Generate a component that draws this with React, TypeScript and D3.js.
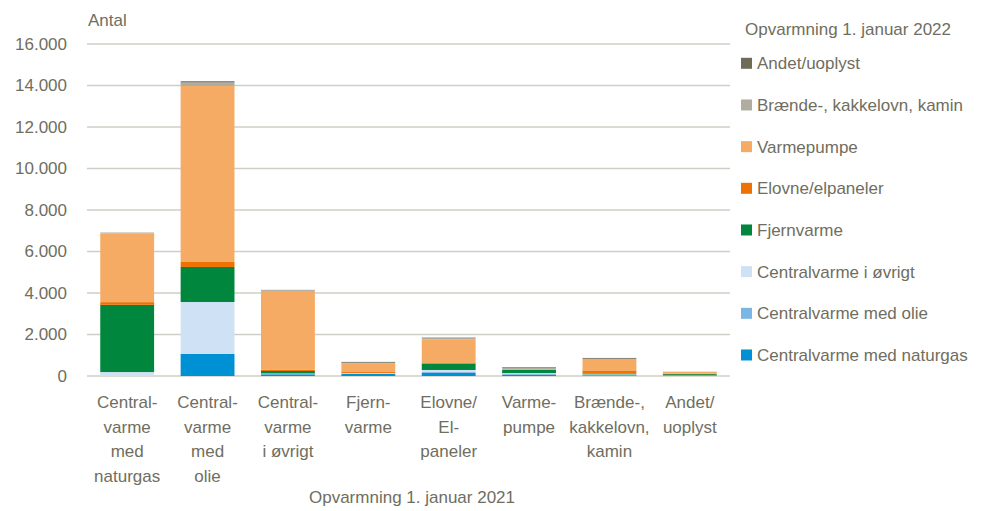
import React, { useEffect, useRef } from 'react';
import * as d3 from 'd3';

const categories = ['naturgas', 'olie', 'ovrigt', 'fjernvarme', 'elovne', 'varmepumpe', 'braende', 'andet'];
const categoryLabels = [
  ['Central-', 'varme', 'med', 'naturgas'],
  ['Central-', 'varme', 'med', 'olie'],
  ['Central-', 'varme', 'i øvrigt'],
  ['Fjern-', 'varme'],
  ['Elovne/', 'El-', 'paneler'],
  ['Varme-', 'pumpe'],
  ['Brænde-,', 'kakkelovn,', 'kamin'],
  ['Andet/', 'uoplyst'],
];

// series, bottom to top
const seriesNames = [
  'Centralvarme med naturgas',
  'Centralvarme med olie',
  'Centralvarme i øvrigt',
  'Fjernvarme',
  'Elovne/elpaneler',
  'Varmepumpe',
  'Brænde-, kakkelovn, kamin',
  'Andet/uoplyst',
];
const naturgas = [0, 1060, 80, 110, 150, 60, 30, 10];
const olie = [0, 0, 50, 0, 40, 50, 30, 10];
const ovrigt = [190, 2505, 0, 30, 100, 30, 20, 10];
const fjernvarme = [3240, 1690, 110, 0, 320, 150, 40, 60];
const elovne = [130, 240, 60, 50, 0, 20, 150, 20];
const varmepumpe = [3310, 8480, 3800, 430, 1160, 0, 560, 90];
const braende = [30, 170, 40, 20, 60, 90, 0, 10];
const andet = [10, 60, 10, 40, 20, 30, 40, 0];
const seriesValues = [naturgas, olie, ovrigt, fjernvarme, elovne, varmepumpe, braende, andet];
const colors = ['#0090d4', '#7ab5e3', '#cfe2f5', '#00873d', '#ee7203', '#f6ab64', '#b0ada0', '#6e6b5b'];

const yTicks = [0, 2000, 4000, 6000, 8000, 10000, 12000, 14000, 16000];

const textColor = '#6f6e60';
const font = '"Liberation Sans", Arial, sans-serif';

const App = () => {
  const svgRef = useRef<SVGSVGElement>(null);

  useEffect(() => {
    const w = 987;
    const h = 511;
    const left = 87;
    const right = 730;
    const top = 44;
    const bottom = 376;

    const svg = d3.select(svgRef.current).attr('width', w).attr('height', h);
    svg.selectAll('*').remove();

    const x = d3.scaleBand<string>().domain(categories).range([left, right]).paddingInner(0.33).paddingOuter(0.165);
    const y = d3.scaleLinear().domain([0, 16000]).range([bottom, top]);

    const locale = d3.formatLocale({ decimal: ',', thousands: '.', grouping: [3], currency: ['', ''] });
    const fmt = locale.format(',');

    // gridlines
    svg.append('g')
      .selectAll('line')
      .data(yTicks)
      .enter()
      .append('line')
      .attr('x1', left)
      .attr('x2', right)
      .attr('y1', (d) => y(d))
      .attr('y2', (d) => y(d))
      .attr('stroke', '#cfcec5')
      .attr('stroke-width', 1.3);

    const yAxis = d3.axisLeft(y).tickValues(yTicks).tickFormat((d) => fmt(d as number)).tickSize(0).tickPadding(20);
    const gy = svg.append('g').attr('transform', `translate(${left},0)`).call(yAxis);
    gy.select('.domain').remove();
    gy.selectAll('text').attr('fill', textColor).attr('font-size', 17).attr('font-family', font);

    // stacked bars
    const rows = categories.map((c, i) => {
      const r: any = { cat: c };
      seriesNames.forEach((s, j) => { r[s] = seriesValues[j][i]; });
      return r;
    });
    const stacked = d3.stack().keys(seriesNames)(rows);

    svg.append('g')
      .selectAll('g')
      .data(stacked)
      .enter()
      .append('g')
      .attr('fill', (d, i) => colors[i])
      .selectAll('rect')
      .data((d) => d)
      .enter()
      .append('rect')
      .attr('x', (d: any) => x(d.data.cat) as number)
      .attr('width', x.bandwidth())
      .attr('y', (d) => y(d[1]))
      .attr('height', (d) => Math.max(0, y(d[0]) - y(d[1])));

    // category labels
    const gl = svg.append('g');
    categories.forEach((c, i) => {
      const t = gl.append('text')
        .attr('x', (x(c) as number) + x.bandwidth() / 2)
        .attr('y', 408)
        .attr('text-anchor', 'middle')
        .attr('fill', textColor)
        .attr('font-size', 17)
        .attr('font-family', font);
      categoryLabels[i].forEach((line, k) => {
        t.append('tspan').attr('x', (x(c) as number) + x.bandwidth() / 2).attr('dy', k === 0 ? 0 : 24.5).text(line);
      });
    });

    svg.append('text')
      .attr('x', 412)
      .attr('y', 503)
      .attr('text-anchor', 'middle')
      .attr('fill', textColor)
      .attr('font-size', 17)
      .attr('font-family', font)
      .text('Opvarmning 1. januar 2021');

    svg.append('text')
      .attr('x', 88)
      .attr('y', 26)
      .attr('fill', textColor)
      .attr('font-size', 17)
      .attr('font-family', font)
      .text('Antal');

    // legend
    svg.append('text')
      .attr('x', 745)
      .attr('y', 35)
      .attr('fill', textColor)
      .attr('font-size', 17)
      .attr('font-family', font)
      .text('Opvarmning 1. januar 2022');

    const legend = svg.append('g')
      .selectAll('g')
      .data(seriesNames.map((s, i) => ({ s, c: colors[i] })).reverse())
      .enter()
      .append('g')
      .attr('transform', (d, i) => `translate(741,${63.3 + i * 41.67})`);
    legend.append('rect').attr('x', 0).attr('y', -5.5).attr('width', 11).attr('height', 11).attr('fill', (d) => d.c);
    legend.append('text')
      .attr('x', 16)
      .attr('y', 6)
      .attr('fill', textColor)
      .attr('font-size', 17)
      .attr('font-family', font)
      .text((d) => d.s);
  }, []);

  return (
    <svg ref={svgRef} style={{ position: 'absolute', left: 0, top: 0 }}></svg>
  );
};

export default App;
